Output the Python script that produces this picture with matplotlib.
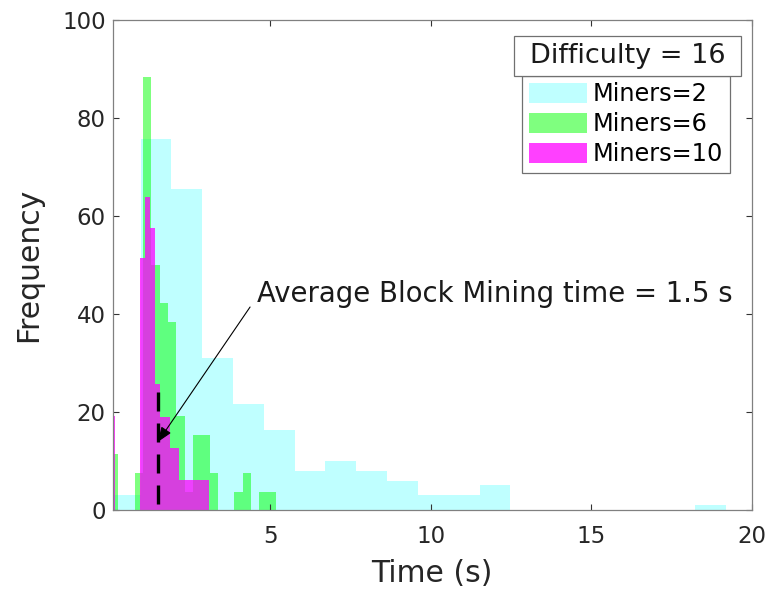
import numpy as np
import matplotlib
matplotlib.use("Agg")
import matplotlib.pyplot as plt
from matplotlib.patches import Rectangle

# histogram bin edges (s) and counts for each miner count, difficulty 16
edges_2 = np.linspace(0, 19.2, 21)
counts_2 = [3, 75.7, 65.4, 31, 21.7, 16.4, 8, 10, 8, 6,
            3, 3, 5, 0, 0, 0, 0, 0, 0, 1]

edges_6 = np.linspace(0, 5.18, 21)
counts_6 = [11.5, 0, 0, 7.5, 88.4, 50, 42.2, 38.3, 19.1, 3.7,
            15.3, 15.3, 7.5, 0, 0, 3.6, 7.5, 0, 3.6, 3.6]

edges_10 = np.linspace(0, 3.1, 21)
counts_10 = [19.1, 0, 0, 0, 0, 0, 51.3, 63.9, 57.6, 25.6,
             19, 19, 12.7, 12.7, 6.2, 6.2, 6.2, 6.2, 6.2, 6.2]

labels = ["Miners=2", "Miners=6", "Miners=10"]
avg_time = 1.5
difficulty = 16

W, H = 768, 589
fig = plt.figure(figsize=(W / 100, H / 100), dpi=100)
ax = fig.add_axes([112.7 / W, 1 - 510 / H, (751.7 - 112.7) / W, (510 - 19.7) / H])

ax.stairs(counts_2, edges_2, fill=True, color=(0, 1, 1), alpha=0.25, lw=0, label=labels[0])
ax.stairs(counts_6, edges_6, fill=True, color=(0, 1, 0), alpha=0.5, lw=0, label=labels[1])
ax.stairs(counts_10, edges_10, fill=True, color=(1, 0, 1), alpha=0.75, lw=0, label=labels[2])

# average mining time marker
ax.plot([avg_time, avg_time], [24, 0], color="k", lw=2.4, ls=(0, (5.7, 3.6)))
ax.annotate("", xy=(avg_time, 13.9), xytext=(4.37, 41.4),
            arrowprops=dict(arrowstyle="-|>,head_length=0.9,head_width=0.35",
                            color="k", lw=0.8, shrinkA=0, shrinkB=0))
ax.text(4.58, 42.4, "Average Block Mining time = %.1f s" % avg_time,
        fontsize=19.8, color="#1a1a1a", ha="left", va="baseline")

ax.set_xlim(0.09, 20)
ax.set_ylim(0, 100)
ax.set_xticks([5, 10, 15, 20])
ax.set_yticks(np.arange(0, 101, 20))
ax.tick_params(direction="in", length=4, width=0.8, color="#333333",
               labelsize=16.5, labelcolor="#262626", top=True, right=True)
ax.tick_params(axis="x", pad=11)
ax.tick_params(axis="y", pad=5)
for s in ax.spines.values():
    s.set_color("#808080")
    s.set_linewidth(0.9)

ax.set_xlabel("Time (s)", fontsize=21.5, color="#262626", labelpad=8)
ax.set_ylabel("Frequency", fontsize=21.5, color="#262626", labelpad=14)

leg = ax.legend(loc="upper left", bbox_to_anchor=(522.3 / W, 1 - 75.7 / H),
                bbox_transform=fig.transFigure, borderaxespad=0,
                fontsize=17.3, handlelength=2.4, handleheight=0.9,
                handletextpad=0.25, labelspacing=0.25, borderpad=0.28,
                fancybox=False, framealpha=1, edgecolor="#707070")
leg.get_frame().set_linewidth(0.9)

# legend title box
fig.add_artist(Rectangle((514.3 / W, 1 - 75.7 / H), (741 - 514.3) / W, 40 / H,
                         transform=fig.transFigure, facecolor="white",
                         edgecolor="#707070", lw=0.9))
fig.text(627.7 / W, 1 - 55.7 / H, "Difficulty = %d" % difficulty,
         fontsize=19.5, color="#1a1a1a", ha="center", va="center")

fig.savefig("out.png", dpi=100)
